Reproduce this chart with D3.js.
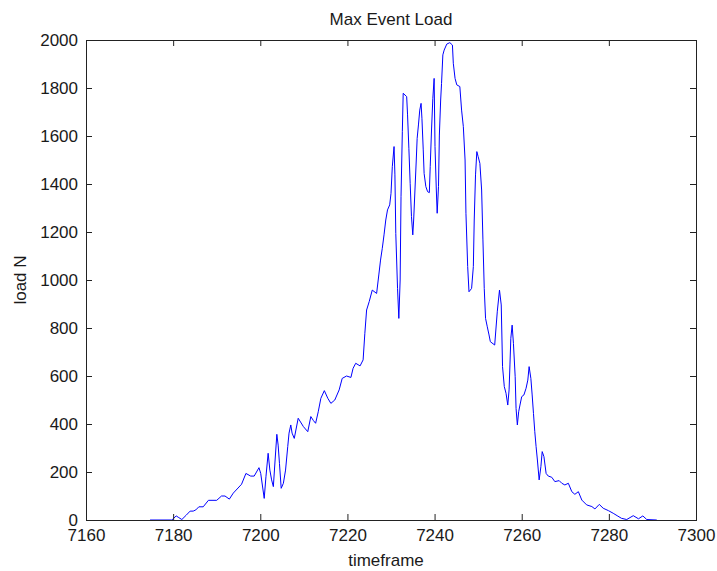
<!DOCTYPE html>
<html>
<head>
<meta charset="utf-8">
<script src="https://cdn.jsdelivr.net/npm/d3@7"></script>
<style>
  html, body { margin: 0; padding: 0; background: #fff; }
  svg { display: block; }
  text { font-family: "Liberation Sans", Arial, sans-serif; fill: #1a1a1a; }
</style>
</head>
<body>
<svg id="chart" width="717" height="571"></svg>
<script>
const title = "Max Event Load";
const xLabel = "timeframe";
const yLabel = "load N";
const xTicks = [7160, 7180, 7200, 7220, 7240, 7260, 7280, 7300];
const yTicks = [0, 200, 400, 600, 800, 1000, 1200, 1400, 1600, 1800, 2000];

const timeframe = [
  7174.7, 7179.7, 7180.7, 7181.3, 7182.0, 7183.0, 7183.9, 7184.6, 7185.2, 7185.9,
  7186.9, 7188.1, 7190.0, 7191.1, 7191.9, 7192.9, 7193.8, 7195.7, 7196.7, 7197.8,
  7198.6, 7199.7, 7200.1, 7200.9, 7201.3, 7201.8, 7202.2, 7202.6, 7203.0, 7203.4,
  7203.8, 7204.1, 7204.4, 7204.8, 7205.3, 7205.8, 7206.3, 7206.6, 7207.0, 7207.3,
  7207.8, 7208.7, 7209.9, 7210.9, 7211.6, 7212.2, 7212.7, 7213.3, 7213.9, 7214.7,
  7215.5, 7216.2, 7217.1, 7218.1, 7218.8, 7219.8, 7220.8, 7221.3, 7221.9, 7222.9,
  7223.6, 7224.0, 7224.4, 7225.0, 7225.7, 7226.7, 7227.2, 7227.6, 7228.0, 7228.4,
  7228.8, 7229.2, 7229.7, 7230.0, 7230.3, 7230.7, 7230.9, 7231.1, 7231.5, 7231.8,
  7232.1, 7232.3, 7232.6, 7232.8, 7233.6, 7233.8, 7234.1, 7234.4, 7234.7, 7235.0,
  7235.2, 7235.5, 7235.8, 7236.0, 7236.3, 7236.6, 7236.9, 7237.1, 7237.4, 7237.6,
  7238.0, 7238.4, 7238.8, 7239.0, 7239.3, 7239.6, 7239.9, 7240.1, 7240.4, 7240.6,
  7240.9, 7241.1, 7241.4, 7241.6, 7241.9, 7242.2, 7242.8, 7243.5, 7244.1, 7244.3,
  7244.7, 7245.1, 7245.8, 7246.2, 7246.6, 7247.0, 7247.2, 7247.6, 7247.9, 7248.5,
  7248.9, 7249.1, 7249.4, 7249.7, 7250.0, 7250.4, 7250.8, 7251.1, 7251.4, 7251.7,
  7252.1, 7252.5, 7252.8, 7253.8, 7254.1, 7254.4, 7254.9, 7255.3, 7255.6, 7256.0,
  7256.4, 7256.8, 7257.1, 7257.3, 7257.5, 7257.8, 7258.1, 7258.5, 7258.7, 7259.0,
  7259.3, 7259.6, 7260.0, 7260.5, 7261.0, 7261.4, 7261.7, 7262.1, 7262.4, 7262.7,
  7263.0, 7263.3, 7263.6, 7264.0, 7264.4, 7264.7, 7265.1, 7265.6, 7266.1, 7266.9,
  7267.6, 7268.6, 7269.2, 7269.9, 7270.7, 7271.5, 7272.2, 7273.0, 7273.8, 7274.9,
  7276.1, 7276.8, 7277.8, 7278.7, 7279.9, 7281.0, 7281.9, 7282.9, 7284.1, 7285.6,
  7286.8, 7287.8, 7288.7, 7291.0
];
const load = [
  0, 0, 17, 10, 2, 20, 37, 37, 42, 55,
  55, 82, 82, 100, 100, 87, 112, 149, 194, 183,
  183, 218, 194, 90, 180, 278, 208, 167, 139, 250,
  357, 312, 236, 132, 153, 208, 306, 362, 396, 362,
  340, 424, 389, 368, 431, 414, 403, 451, 507, 539,
  507, 486, 500, 542, 590, 600, 594, 632, 653, 642,
  667, 778, 875, 910, 958, 944, 1021, 1083, 1132, 1188,
  1250, 1292, 1313, 1361, 1472, 1556, 1438, 1194, 965, 840,
  1000, 1347, 1618, 1778, 1764, 1688, 1549, 1403, 1264, 1188,
  1250, 1375, 1500, 1590, 1646, 1708, 1736, 1674, 1542, 1444,
  1389, 1368, 1364, 1472, 1625, 1757, 1840, 1556, 1375, 1278,
  1389, 1604, 1750, 1819, 1938, 1958, 1983, 1989, 1979, 1903,
  1840, 1813, 1806, 1708, 1639, 1500, 1278, 1056, 951, 965,
  1056, 1250, 1438, 1535, 1514, 1486, 1375, 1167, 965, 840,
  805, 771, 743, 729, 800, 870, 958, 896, 639, 556,
  528, 479, 542, 646, 757, 812, 736, 597, 465, 396,
  451, 479, 514, 521, 549, 583, 639, 590, 521, 444,
  368, 306, 250, 167, 222, 285, 264, 194, 183, 178,
  160, 164, 153, 146, 153, 118, 107, 118, 83, 63,
  56, 46, 65, 49, 39, 28, 18, 7, 2, 18,
  5, 17, 2, 0
];

const data = timeframe.map((t, i) => ({ t: t, v: load[i] }));

const svg = d3.select("#chart");
const mLeft = 86, mRight = 696, mTop = 40, mBottom = 520;
const x = d3.scaleLinear().domain([7160, 7300]).range([mLeft, mRight]);
const y = d3.scaleLinear().domain([0, 2000]).range([mBottom, mTop]);
const fontSize = "17px";
const axisColor = "#222";

function styleAxis(g) {
  g.select(".domain").remove();
  g.selectAll(".tick line").attr("stroke", axisColor);
  g.selectAll(".tick text").attr("font-size", fontSize).attr("fill", "#1a1a1a")
    .attr("font-family", "'Liberation Sans', Arial, sans-serif");
}

// data line
const line = d3.line().x(d => x(d.t)).y(d => y(d.v));
svg.append("path")
  .datum(data)
  .attr("fill", "none")
  .attr("stroke", "#0000ff")
  .attr("stroke-width", 1)
  .attr("d", line);

// axes
svg.append("g").attr("transform", `translate(0,${mBottom})`)
  .call(d3.axisBottom(x).tickValues(xTicks).tickFormat(d3.format("d")).tickSizeInner(-6).tickSizeOuter(0).tickPadding(9))
  .call(styleAxis);
svg.append("g").attr("transform", `translate(0,${mTop})`)
  .call(d3.axisTop(x).tickValues(xTicks).tickFormat("").tickSizeInner(-6).tickSizeOuter(0))
  .call(styleAxis);
svg.append("g").attr("transform", `translate(${mLeft},0)`)
  .call(d3.axisLeft(y).tickValues(yTicks).tickFormat(d3.format("d")).tickSizeInner(-6).tickSizeOuter(0).tickPadding(8))
  .call(styleAxis);
svg.append("g").attr("transform", `translate(${mRight},0)`)
  .call(d3.axisRight(y).tickValues(yTicks).tickFormat("").tickSizeInner(-6).tickSizeOuter(0))
  .call(styleAxis);

// box
svg.append("rect")
  .attr("x", mLeft).attr("y", mTop)
  .attr("width", mRight - mLeft).attr("height", mBottom - mTop)
  .attr("fill", "none").attr("stroke", axisColor).attr("stroke-width", 1)
  .attr("shape-rendering", "crispEdges");

// title & labels
svg.append("text")
  .attr("x", (mLeft + mRight) / 2).attr("y", 25)
  .attr("text-anchor", "middle").attr("font-size", fontSize)
  .text(title);
svg.append("text")
  .attr("x", (mLeft + mRight) / 2 - 5).attr("y", 566)
  .attr("text-anchor", "middle").attr("font-size", fontSize)
  .text(xLabel);
svg.append("text")
  .attr("transform", `translate(26,${(mTop + mBottom) / 2}) rotate(-90)`)
  .attr("text-anchor", "middle").attr("font-size", fontSize)
  .text(yLabel);
</script>
</body>
</html>
